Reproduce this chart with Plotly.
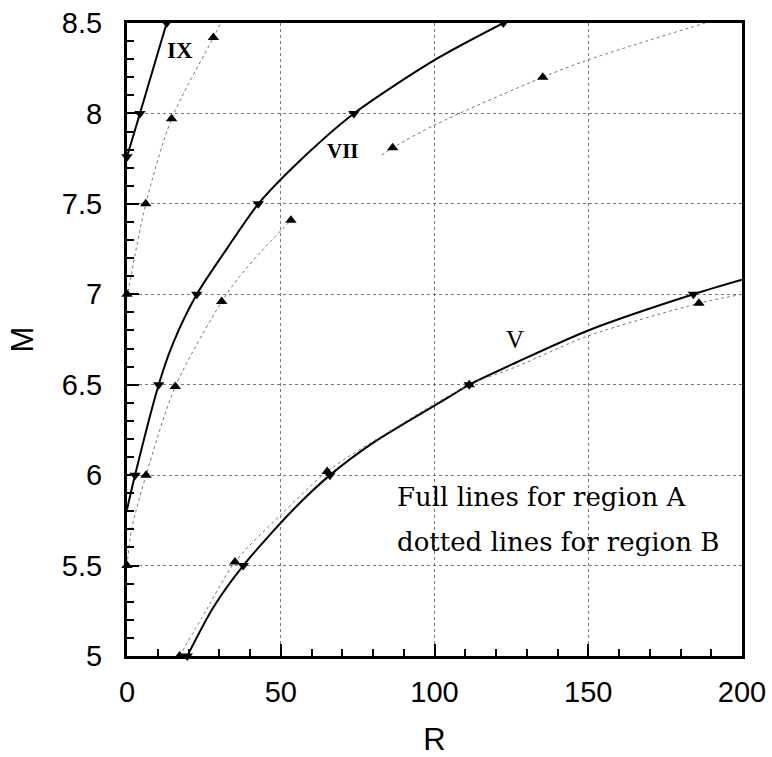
import plotly.graph_objects as go

# ---------------- data ----------------
# Curve V, region A (full line)
v_a_r = [19.6, 28.1, 37.8, 54.1, 66.0, 80.1, 104.5, 111.3, 126.2, 150.0, 184.2, 200.0]
v_a_m = [5.0, 5.27, 5.5, 5.81, 6.0, 6.18, 6.43, 6.5, 6.62, 6.80, 7.0, 7.08]
# Curve V, region B (dotted line)
v_b_r = [17.1, 26.0, 35.1, 50.0, 65.1, 88.0, 111.3, 126.7, 150.0, 186.0, 200.0]
v_b_m = [5.0, 5.26, 5.52, 5.78, 6.02, 6.27, 6.5, 6.60, 6.77, 6.95, 7.0]

# Curve VII, region A
vii_a_r = [0.0, 2.6, 10.3, 15.0, 22.7, 32.4, 42.7, 56.3, 73.8, 100.5, 122.4]
vii_a_m = [5.81, 6.0, 6.5, 6.73, 7.0, 7.25, 7.5, 7.74, 8.0, 8.30, 8.5]
# Curve VII, region B (two visible pieces)
vii_b1_r = [0.0, 1.5, 6.2, 15.7, 30.8, 36.7, 43.3, 53.3]
vii_b1_m = [5.5, 5.7, 6.0, 6.49, 6.96, 7.1, 7.23, 7.41]
vii_b2_r = [82.8, 86.4, 100.5, 135.2, 150.6, 188.0]
vii_b2_m = [7.77, 7.81, 7.94, 8.2, 8.3, 8.5]

# Curve IX, region A
ix_a_r = [0.0, 4.2, 12.9]
ix_a_m = [7.76, 8.0, 8.5]
# Curve IX, region B
ix_b_r = [0.0, 6.1, 14.5, 28.1, 30.5]
ix_b_m = [6.98, 7.5, 7.97, 8.42, 8.5]

# Marker points (region A: down triangles, region B: up triangles)
mark_a_r = [19.6, 37.8, 66.0, 111.3, 184.2, 2.6, 10.3, 22.7, 42.7, 73.8, 122.4, 0.0, 4.2, 12.9]
mark_a_m = [5.0, 5.5, 6.0, 6.5, 7.0, 6.0, 6.5, 7.0, 7.5, 8.0, 8.5, 7.76, 8.0, 8.5]
mark_b_r = [17.1, 35.1, 65.1, 111.3, 186.0, 0.0, 6.2, 15.7, 30.8, 53.3, 86.4, 135.2, 0.0, 6.1, 14.5, 28.1]
mark_b_m = [5.0, 5.52, 6.02, 6.5, 6.95, 5.5, 6.0, 6.49, 6.96, 7.41, 7.81, 8.2, 7.0, 7.5, 7.97, 8.42]

# Curve labels
label_text = ["IX", "VII", "V"]
label_r = [17.2, 70.4, 126.2]
label_m = [8.35, 7.79, 6.75]

# Axis ticks
x_ticks = [0, 50, 100, 150, 200]
x_tick_text = ["0", "50", "100", "150", "200"]
y_ticks = [5, 5.5, 6, 6.5, 7, 7.5, 8, 8.5]
y_tick_text = ["5", "5.5", "6", "6.5", "7", "7.5", "8", "8.5"]

note_lines = ["Full lines for region A", "dotted lines for region B"]
note_m = [5.88, 5.63]

# ---------------- figure ----------------
fig = go.Figure()

full_style = dict(color="black", width=2, shape="spline", smoothing=0.8)
dot_style = dict(color="#777777", width=1, dash="dot", shape="spline", smoothing=0.8)

for r, m in [(v_a_r, v_a_m), (vii_a_r, vii_a_m), (ix_a_r, ix_a_m)]:
    fig.add_trace(go.Scatter(x=r, y=m, mode="lines", line=full_style,
                             showlegend=False, hoverinfo="skip", cliponaxis=True))

for r, m in [(v_b_r, v_b_m), (vii_b1_r, vii_b1_m), (vii_b2_r, vii_b2_m), (ix_b_r, ix_b_m)]:
    fig.add_trace(go.Scatter(x=r, y=m, mode="lines", line=dot_style,
                             showlegend=False, hoverinfo="skip", cliponaxis=True))

fig.add_trace(go.Scatter(x=mark_b_r, y=mark_b_m, mode="markers",
                         marker=dict(symbol="triangle-up", size=10, color="black"),
                         showlegend=False, cliponaxis=False))
fig.add_trace(go.Scatter(x=mark_a_r, y=mark_a_m, mode="markers",
                         marker=dict(symbol="triangle-down", size=10, color="black"),
                         showlegend=False, cliponaxis=False))

label_fonts = [dict(family="Liberation Serif", size=23, color="black", weight="bold"),
               dict(family="Liberation Serif", size=21, color="black", weight="bold"),
               dict(family="Liberation Serif", size=25, color="black")]
for t, r, m, f in zip(label_text, label_r, label_m, label_fonts):
    fig.add_annotation(x=r, y=m, text=t, showarrow=False, font=f,
                       xanchor="center", yanchor="middle")

for t, m in zip(note_lines, note_m):
    fig.add_annotation(x=87.2, y=m, text=t, showarrow=False,
                       font=dict(family="DejaVu Serif", size=26, color="black"),
                       xanchor="left", yanchor="middle")

axis_common = dict(
    showline=True, linewidth=3, linecolor="black", mirror=True,
    showgrid=True, gridcolor="#777777", gridwidth=1, griddash="dot",
    zeroline=False, ticks="inside", tickwidth=2, tickcolor="black",
    automargin=False,
    tickfont=dict(family="Liberation Sans", size=29, color="black"),
)

fig.update_xaxes(
    range=[0, 200], tickmode="array", tickvals=x_ticks, ticktext=x_tick_text,
    ticklen=12, ticklabelstandoff=8,
    minor=dict(dtick=10, ticks="inside", ticklen=7, tickwidth=1.5, tickcolor="black", showgrid=False),
    title=dict(text="R", font=dict(family="Liberation Sans", size=31, color="black"), standoff=24),
    **axis_common,
)
fig.update_yaxes(
    range=[5, 8.5], tickmode="array", tickvals=y_ticks, ticktext=y_tick_text,
    ticklen=12, ticklabelstandoff=16,
    minor=dict(dtick=0.1, ticks="inside", ticklen=7, tickwidth=1.5, tickcolor="black", showgrid=False),
    title=dict(text="M", font=dict(family="Liberation Sans", size=31, color="black"), standoff=20),
    **axis_common,
)

fig.update_layout(
    width=772, height=757, autosize=False,
    margin=dict(l=127, r=30, t=23, b=101, autoexpand=False),
    paper_bgcolor="white", plot_bgcolor="white",
    showlegend=False,
)

fig.write_html(
    "out.html",
    config={"displayModeBar": False},
    post_script=(
        "document.documentElement.style.margin='0';"
        "document.documentElement.style.padding='0';"
        "document.documentElement.style.overflow='hidden';"
        "document.body.style.margin='0';"
        "document.body.style.padding='0';"
        "document.body.style.overflow='hidden';"
    ),
)
